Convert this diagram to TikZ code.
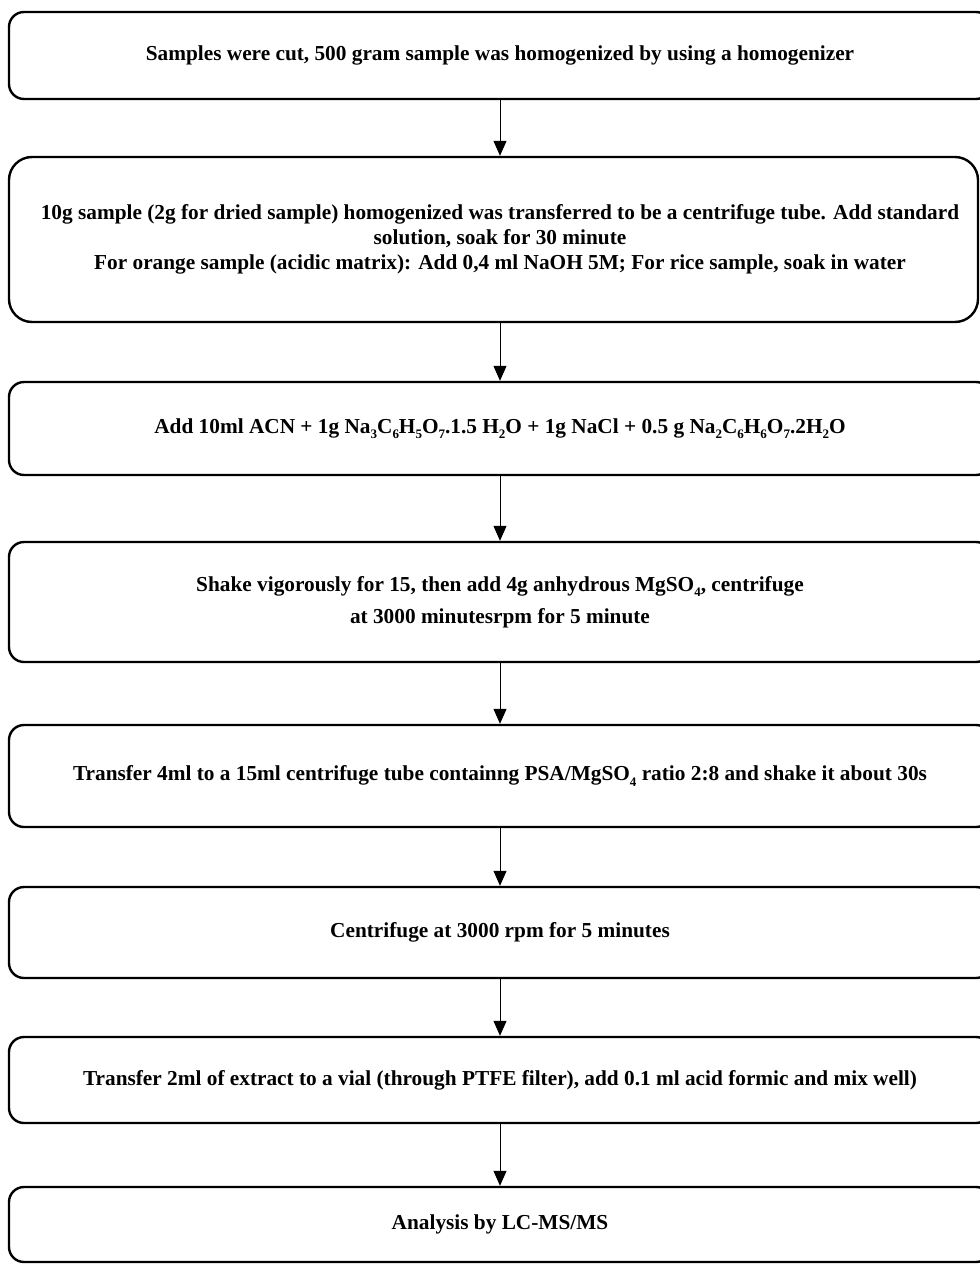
\documentclass[tikz,border=0pt]{standalone}
\usepackage{fontspec}
\setmainfont{Liberation Serif}
\usetikzlibrary{arrows.meta,positioning}
\newcommand{\chemsub}[1]{\raisebox{-0.55ex}{\fontsize{13}{13}\selectfont #1}}

\begin{document}
\begin{tikzpicture}[x=1pt, y=-1pt,
  stepbox/.style={rectangle, rounded corners=15pt, draw=black, line width=2.4pt,
                  minimum width=982pt, inner sep=0pt, align=center,
                  font=\fontsize{21.3}{25}\selectfont\bfseries},
  farr/.style={-{Triangle[length=15pt, width=13pt]}, line width=1pt}
]
\useasboundingbox (0,0) rectangle (979,1265);

% Process steps
\node[stepbox, minimum height=87pt] (cut) at (500,55.5)
  {Samples were cut, 500 gram sample was homogenized by using a homogenizer};
\node[stepbox, minimum height=165pt, minimum width=969pt, rounded corners=23pt] (soak) at (493.5,239.5)
  {\hspace*{13pt}10g sample (2g for dried sample) homogenized was transferred to be a centrifuge tube. Add standard\\
   \hspace*{13pt}solution, soak for 30 minute\\
   \hspace*{13pt}For orange sample (acidic matrix): Add 0,4 ml NaOH 5M; For rice sample, soak in water};
\node[stepbox, minimum height=93pt] (acn) at (500,428.5)
  {Add 10ml ACN + 1g Na\chemsub{3}C\chemsub{6}H\chemsub{5}O\chemsub{7}.1.5 H\chemsub{2}O + 1g NaCl + 0.5 g Na\chemsub{2}C\chemsub{6}H\chemsub{6}O\chemsub{7}.2H\chemsub{2}O};
\node[stepbox, minimum height=120pt] (shake) at (500,602)
  {Shake vigorously for 15, then add 4g anhydrous MgSO\chemsub{4}, centrifuge\\[7pt]
   at 3000 minutesrpm for 5 minute};
\node[stepbox, minimum height=102pt] (psa) at (500,776)
  {Transfer 4ml to a 15ml centrifuge tube containng PSA/MgSO\chemsub{4} ratio 2:8 and shake it about 30s};
\node[stepbox, minimum height=91pt] (spin) at (500,932.5)
  {Centrifuge at 3000 rpm for 5 minutes};
\node[stepbox, minimum height=86pt] (vial) at (500,1080)
  {Transfer 2ml of extract to a vial (through PTFE filter), add 0.1 ml acid formic and mix well)};
\node[stepbox, minimum height=75pt] (lcms) at (500,1224.5)
  {Analysis by LC-MS/MS};

% Arrows
\draw[farr] (cut.south)   -- (cut.south |- soak.north);
\draw[farr] (cut.south |- soak.south) -- (acn.north);
\draw[farr] (acn.south)   -- (shake.north);
\draw[farr] (shake.south) -- (psa.north);
\draw[farr] (psa.south)   -- (spin.north);
\draw[farr] (spin.south)  -- (vial.north);
\draw[farr] (vial.south)  -- (lcms.north);
\end{tikzpicture}
\end{document}
